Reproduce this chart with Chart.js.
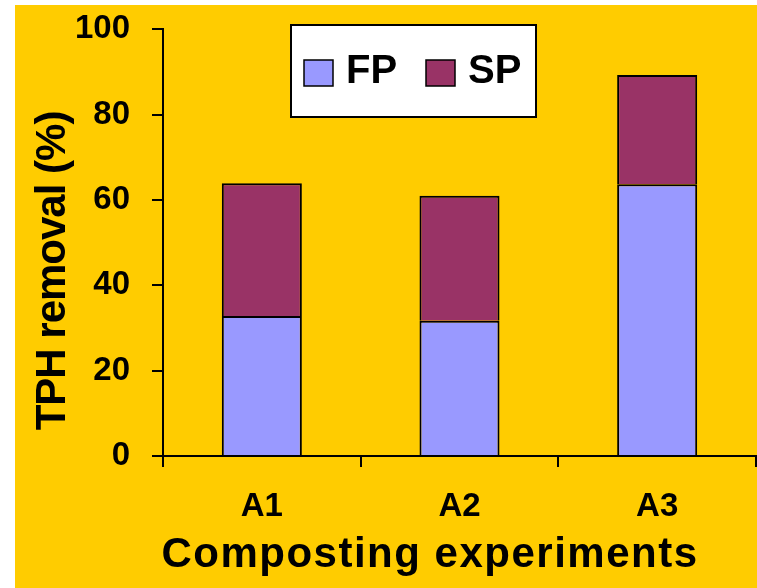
<!DOCTYPE html>
<html>
<head>
<meta charset="utf-8">
<script src="https://cdn.jsdelivr.net/npm/chart.js@4/dist/chart.umd.min.js"></script>
<style>
  html, body { margin: 0; padding: 0; background: #ffffff; }
  #wrap { position: absolute; left: 15px; top: 5px; width: 742px; height: 583px; background: #FFCC00; }
</style>
</head>
<body>
<div id="wrap"><canvas id="c"></canvas></div>
<script>
// TPH removal per composting experiment, split into FP and SP phases (%)
const categories = ['A1', 'A2', 'A3'];
const fpValues = [32.8, 31.7, 63.7];
const spValues = [31.1, 29.3, 25.6];
const yTicks = [0, 20, 40, 60, 80, 100];
const xTitle = 'Composting experiments';
const yTitle = 'TPH removal (%)';

const FONT = '"Liberation Sans", Arial, Helvetica, sans-serif';

// Boxed legend drawn inside the plot area
const boxedLegend = {
  id: 'boxedLegend',
  afterDraw(chart, args, o) {
    const ctx = chart.ctx;
    ctx.save();
    ctx.fillStyle = '#ffffff';
    ctx.strokeStyle = '#000000';
    ctx.lineWidth = 2;
    ctx.fillRect(o.box.x, o.box.y, o.box.w, o.box.h);
    ctx.strokeRect(o.box.x, o.box.y, o.box.w, o.box.h);
    ctx.font = 'bold ' + o.fontSize + 'px ' + FONT;
    ctx.textAlign = 'left';
    ctx.textBaseline = 'alphabetic';
    chart.data.datasets.forEach((ds, i) => {
      const sx = o.itemX[i];
      ctx.fillStyle = ds.backgroundColor;
      ctx.fillRect(sx, o.swatchY, o.swatch.w, o.swatch.h);
      ctx.lineWidth = 1.5;
      ctx.strokeRect(sx, o.swatchY, o.swatch.w, o.swatch.h);
      ctx.fillStyle = '#000000';
      ctx.fillText(ds.label, sx + o.swatch.w + o.textGap, o.textBaseline);
    });
    ctx.restore();
  }
};

// Axis titles placed with their own offsets
const axisTitles = {
  id: 'axisTitles',
  afterDraw(chart, args, o) {
    const ctx = chart.ctx;
    ctx.save();
    ctx.fillStyle = '#000000';
    ctx.textAlign = 'center';
    ctx.textBaseline = 'alphabetic';
    ctx.font = 'bold ' + o.x.size + 'px ' + FONT;
    ctx.letterSpacing = o.x.spacing + 'px';
    ctx.fillText(o.x.text, o.x.cx, o.x.baseline);
    ctx.font = 'bold ' + o.y.size + 'px ' + FONT;
    ctx.letterSpacing = o.y.spacing + 'px';
    ctx.translate(o.y.baseline, o.y.cy);
    ctx.rotate(-Math.PI / 2);
    ctx.fillText(o.y.text, 0, 0);
    ctx.restore();
  }
};

new Chart(document.getElementById('c'), {
  type: 'bar',
  data: {
    labels: categories,
    datasets: [
      { label: 'FP', data: fpValues, backgroundColor: '#9999FF', borderColor: '#000000', borderWidth: 2, borderSkipped: 'start' },
      { label: 'SP', data: spValues, backgroundColor: '#993366', borderColor: '#000000', borderWidth: 2, borderSkipped: 'start' }
    ]
  },
  options: {
    responsive: true,
    maintainAspectRatio: false,
    animation: false,
    layout: { padding: { top: 24.3, right: 1, bottom: 0, left: 0 } },
    datasets: { bar: { categoryPercentage: 1.0, barPercentage: 0.405 } },
    plugins: {
      legend: { display: false },
      tooltip: { enabled: false },
      boxedLegend: {
        box: { x: 276, y: 20, w: 245, h: 92 },
        itemX: [289, 411],
        swatchY: 55,
        swatch: { w: 29, h: 26 },
        textGap: 13,
        textBaseline: 78,
        fontSize: 40
      },
      axisTitles: {
        x: { text: xTitle, size: 42, spacing: 1.5, cx: 415, baseline: 562 },
        y: { text: yTitle, size: 42, spacing: -1, cy: 266, baseline: 50 }
      }
    },
    scales: {
      x: {
        stacked: true,
        afterFit(scale) {
          scale.height = 132;
          scale.paddingLeft = 0;
          scale.paddingRight = 0;
        },
        border: { display: true, color: '#000000', width: 2 },
        grid: { display: true, offset: true, drawOnChartArea: false, drawTicks: true, tickLength: 11, color: '#000000', lineWidth: 2 },
        ticks: { color: '#000000', padding: 20, font: { family: FONT, size: 33, weight: 'bold' } }
      },
      y: {
        stacked: true,
        min: 0,
        max: 100,
        afterFit(scale) {
          scale.width = 148;
          scale.paddingTop = 0;
          scale.paddingBottom = 0;
        },
        afterBuildTicks(scale) { scale.ticks = yTicks.map(v => ({ value: v })); },
        border: { display: true, color: '#000000', width: 2 },
        grid: { display: true, drawOnChartArea: false, drawTicks: true, tickLength: 11, color: '#000000', lineWidth: 2 },
        ticks: { color: '#000000', padding: 22, font: { family: FONT, size: 33, weight: 'bold' } }
      }
    }
  },
  plugins: [boxedLegend, axisTitles]
});
</script>
</body>
</html>
